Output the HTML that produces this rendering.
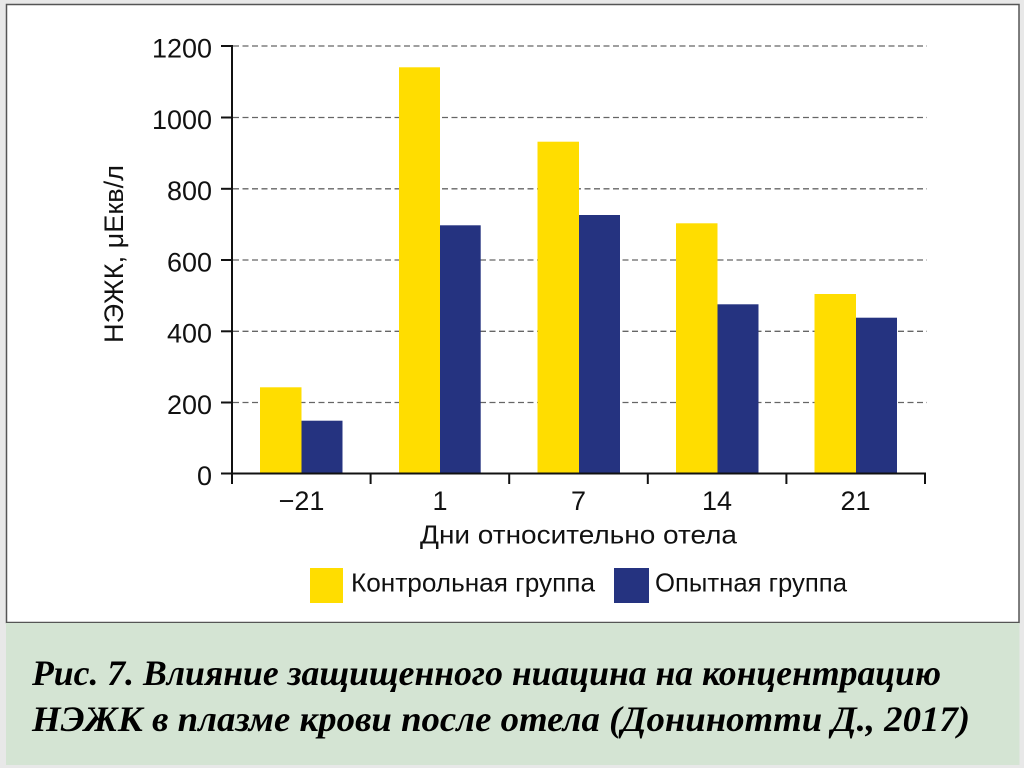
<!DOCTYPE html>
<html><head><meta charset="utf-8"><style>
html,body{margin:0;padding:0;background:#e8e8e8;}
svg{display:block;}
</style></head><body>
<svg width="1024" height="768" viewBox="0 0 1024 768" xmlns="http://www.w3.org/2000/svg">
<rect x="0" y="0" width="1024" height="768" fill="#e8e8e8"/>
<rect x="6.5" y="4.5" width="1012.5" height="618" fill="#ffffff" stroke="#555" stroke-width="1.5"/>
<rect x="6" y="623" width="1013.5" height="142" fill="#d4e4d3"/>
<!-- gridlines -->
<g stroke="#666" stroke-width="1.3" stroke-dasharray="6,3.5" fill="none">
<line x1="233" y1="46" x2="927" y2="46"/>
<line x1="233" y1="117.5" x2="927" y2="117.5"/>
<line x1="233" y1="188.8" x2="927" y2="188.8"/>
<line x1="233" y1="260" x2="927" y2="260"/>
<line x1="233" y1="331.3" x2="927" y2="331.3"/>
<line x1="233" y1="402.5" x2="927" y2="402.5"/>
</g>
<!-- bars -->
<g>
<rect x="260" y="387.3" width="41.5" height="86.2" fill="#ffdd00"/>
<rect x="301.5" y="420.7" width="41" height="52.8" fill="#253380"/>
<rect x="399" y="67.3" width="41" height="406.2" fill="#ffdd00"/>
<rect x="440" y="225.3" width="40.7" height="248.2" fill="#253380"/>
<rect x="537.5" y="141.7" width="41.5" height="331.8" fill="#ffdd00"/>
<rect x="579" y="215" width="41" height="258.5" fill="#253380"/>
<rect x="676" y="223.3" width="41.5" height="250.2" fill="#ffdd00"/>
<rect x="717.5" y="304.3" width="41" height="169.2" fill="#253380"/>
<rect x="814.5" y="294" width="41.5" height="179.5" fill="#ffdd00"/>
<rect x="856" y="317.7" width="41" height="155.8" fill="#253380"/>
</g>
<!-- axes -->
<g stroke="#111" stroke-width="2" fill="none">
<line x1="232" y1="45" x2="232" y2="484"/>
<line x1="221" y1="473.5" x2="926" y2="473.5"/>
<line x1="221" y1="46" x2="232" y2="46"/>
<line x1="221" y1="117.5" x2="232" y2="117.5"/>
<line x1="221" y1="188.8" x2="232" y2="188.8"/>
<line x1="221" y1="260" x2="232" y2="260"/>
<line x1="221" y1="331.3" x2="232" y2="331.3"/>
<line x1="221" y1="402.5" x2="232" y2="402.5"/>
<line x1="370.6" y1="473.5" x2="370.6" y2="484"/>
<line x1="509.2" y1="473.5" x2="509.2" y2="484"/>
<line x1="647.8" y1="473.5" x2="647.8" y2="484"/>
<line x1="786.4" y1="473.5" x2="786.4" y2="484"/>
<line x1="925" y1="473.5" x2="925" y2="484"/>
</g>
<!-- y tick labels -->
<g font-family="'Liberation Sans', sans-serif" font-size="27" fill="#111" text-anchor="end">
<text x="212" y="57.5" textLength="60" lengthAdjust="spacingAndGlyphs">1200</text>
<text x="212" y="129" textLength="60" lengthAdjust="spacingAndGlyphs">1000</text>
<text x="212" y="200" textLength="45" lengthAdjust="spacingAndGlyphs">800</text>
<text x="212" y="271.5" textLength="45" lengthAdjust="spacingAndGlyphs">600</text>
<text x="212" y="342.5" textLength="45" lengthAdjust="spacingAndGlyphs">400</text>
<text x="212" y="414" textLength="45" lengthAdjust="spacingAndGlyphs">200</text>
<text x="212" y="485">0</text>
</g>
<!-- x tick labels -->
<g font-family="'Liberation Sans', sans-serif" font-size="27" fill="#111" text-anchor="middle">
<text x="301.5" y="510">−21</text>
<text x="440" y="510">1</text>
<text x="578.5" y="510">7</text>
<text x="717" y="510">14</text>
<text x="855.5" y="510">21</text>
</g>
<!-- axis titles -->
<text x="420" y="543.5" font-family="'Liberation Sans', 'Noto Sans CJK SC', sans-serif" font-size="26" fill="#111" textLength="317" lengthAdjust="spacingAndGlyphs">Дни относительно отела</text>
<text transform="translate(123,343) rotate(-90)" x="0" y="0" font-family="'Liberation Sans', 'Noto Sans CJK SC', sans-serif" font-size="27" fill="#111" textLength="178" lengthAdjust="spacingAndGlyphs">НЭЖК, μЕкв/л</text>
<!-- legend -->
<rect x="310" y="568" width="33" height="35" fill="#ffdd00"/>
<text x="351" y="591.5" font-family="'Liberation Sans', 'Noto Sans CJK SC', sans-serif" font-size="26" fill="#111" textLength="244" lengthAdjust="spacingAndGlyphs">Контрольная группа</text>
<rect x="614" y="568" width="35" height="35" fill="#253380"/>
<text x="655" y="591.5" font-family="'Liberation Sans', 'Noto Sans CJK SC', sans-serif" font-size="26" fill="#111" textLength="192" lengthAdjust="spacingAndGlyphs">Опытная группа</text>
<!-- caption -->
<g font-family="'Liberation Serif', 'Noto Serif CJK SC', serif" font-size="36" font-weight="bold" font-style="italic" fill="#000">
<text x="32" y="685" textLength="909" lengthAdjust="spacingAndGlyphs">Рис. 7. Влияние защищенного ниацина на концентрацию</text>
<text x="32" y="731" textLength="938" lengthAdjust="spacingAndGlyphs">НЭЖК в плазме крови после отела (Донинотти Д., 2017)</text>
</g>
</svg>
</body></html>
